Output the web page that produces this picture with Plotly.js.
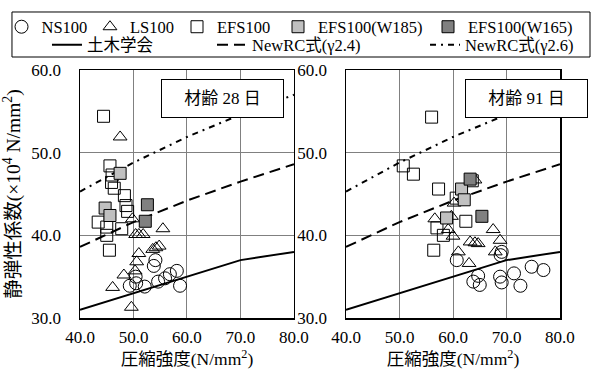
<!DOCTYPE html>
<html>
<head>
<meta charset="utf-8">
<script src="https://cdn.plot.ly/plotly-3.0.1.min.js"></script>
<style>
  html, body { margin: 0; padding: 0; background: #ffffff; }
  #chart { width: 593px; height: 370px; }
</style>
</head>
<body>
<div id="chart"></div>
<script>
// ---- compressive strength grid for the design curves ----
const strengthGrid = [40, 50, 60, 70, 80];
const jsceCurve   = [31.0, 33.0, 35.0, 37.0, 38.0];
const newrc24     = [38.6, 41.6, 44.2, 46.5, 48.6];
const newrc26     = [45.3, 48.8, 51.9, 54.6, 57.0];

// ---- age 28 days ----
const ns28x   = [49.3, 50.5, 50.4, 52.1, 53.8, 54.1, 54.6, 55.9, 56.8, 58.1, 58.7];
const ns28y   = [33.9, 34.2, 35.0, 33.8, 36.3, 37.0, 34.4, 34.8, 35.3, 35.7, 33.9];
const ls28x   = [47.5, 49.8, 55.5, 50.4, 51.0, 51.8, 51.0, 53.6, 54.2, 54.8, 50.6, 50.3, 48.2, 46.1, 49.6];
const ls28y   = [51.9, 42.0, 40.8, 40.1, 40.1, 40.1, 37.8, 38.3, 38.5, 38.7, 36.8, 35.7, 35.2, 33.7, 31.3];
const efs28x  = [44.4, 45.6, 46.0, 45.9, 46.4, 48.3, 48.6, 48.9, 43.4, 45.0, 47.8, 45.0, 45.5];
const efs28y  = [54.4, 48.4, 47.3, 46.4, 45.7, 44.8, 43.6, 42.9, 41.6, 41.0, 40.8, 40.0, 38.2];
const w185_28x = [47.5, 44.7, 45.6];
const w185_28y = [47.5, 43.3, 42.4];
const w165_28x = [52.6, 52.2];
const w165_28y = [43.7, 41.7];

// ---- age 91 days ----
const ns91x   = [60.7, 69.1, 68.9, 64.7, 63.8, 65.0, 68.8, 69.1, 71.4, 72.6, 74.7, 76.9];
const ns91y   = [37.0, 38.0, 37.6, 35.1, 34.4, 34.0, 35.0, 34.3, 35.4, 33.9, 36.2, 35.8];
const ls91x   = [56.6, 59.7, 60.2, 64.1, 67.5, 59.1, 60.0, 63.2, 64.1, 64.7, 68.8, 67.9, 61.0, 63.0];
const ls91y   = [42.0, 42.3, 43.9, 46.7, 40.7, 40.7, 39.9, 39.2, 39.1, 39.0, 39.4, 38.0, 38.0, 36.6];
const efs91x  = [56.0, 50.7, 52.6, 57.3, 62.4, 57.0, 58.2, 56.4, 60.6, 63.6];
const efs91y  = [54.3, 48.4, 47.4, 45.6, 41.7, 40.9, 40.0, 38.2, 44.5, 46.6];
const w185_91x = [61.6, 62.1, 58.8];
const w185_91y = [45.6, 44.3, 42.1];
const w165_91x = [63.2, 65.4];
const w165_91y = [46.8, 42.3];

// ---- axis ticks ----
const xTickVals = [40, 50, 60, 70, 80];
const xTickText = ['40.0', '50.0', '60.0', '70.0', '80.0'];
const yTickVals = [30, 40, 50, 60];
const yTickText = ['30.0', '40.0', '50.0', '60.0'];

const seriesNames = ['NS100', 'LS100', 'EFS100', 'EFS100(W185)', 'EFS100(W165)'];
const curveNames  = ['土木学会', 'NewRC式(γ2.4)', 'NewRC式(γ2.6)'];

const FONT = "'Liberation Serif', 'Times New Roman', 'Noto Sans CJK JP', serif";

const markerStyles = [
  { symbol: 'circle-open',      size: 13, color: '#000000', line: { width: 1, color: '#000000' } },
  { symbol: 'triangle-up-open', size: 12, color: '#000000', line: { width: 1, color: '#000000' } },
  { symbol: 'square-open',      size: 12, color: '#000000', line: { width: 1, color: '#000000' } },
  { symbol: 'square',           size: 12, color: '#c0c0c0', line: { width: 1, color: '#000000' } },
  { symbol: 'square',           size: 12, color: '#808080', line: { width: 1, color: '#000000' } }
];
const curveStyles = [
  { color: '#000000', width: 2, dash: 'solid' },
  { color: '#000000', width: 2, dash: '11px,6px' },
  { color: '#000000', width: 2, dash: '6px,5px,2px,5px' }
];

const legendIds = ['legend', 'legend2', 'legend3', 'legend4', 'legend5', 'legend6', 'legend7', 'legend8'];

const traces = [];
const panels = [
  { xa: 'x',  ya: 'y',  xs: [ns28x, ls28x, efs28x, w185_28x, w165_28x], ys: [ns28y, ls28y, efs28y, w185_28y, w165_28y], legend: true },
  { xa: 'x2', ya: 'y2', xs: [ns91x, ls91x, efs91x, w185_91x, w165_91x], ys: [ns91y, ls91y, efs91y, w185_91y, w165_91y], legend: false }
];
const curves = [jsceCurve, newrc24, newrc26];

panels.forEach(p => {
  curves.forEach((c, i) => {
    traces.push({
      type: 'scatter', mode: 'lines', x: strengthGrid, y: c,
      xaxis: p.xa, yaxis: p.ya, name: curveNames[i],
      line: curveStyles[i], showlegend: p.legend, legend: legendIds[5 + i],
      hoverinfo: 'skip'
    });
  });
  seriesNames.forEach((n, i) => {
    traces.push({
      type: 'scatter', mode: 'markers', x: p.xs[i], y: p.ys[i],
      xaxis: p.xa, yaxis: p.ya, name: n,
      marker: markerStyles[i], showlegend: p.legend, legend: legendIds[i],
      cliponaxis: false
    });
  });
});

const baseAxisX = {
  range: [40, 80], tickvals: xTickVals, ticktext: xTickText,
  showgrid: true, gridcolor: '#808080', gridwidth: 1, zeroline: false,
  showline: true, mirror: true, linecolor: '#000000', linewidth: 1.5,
  ticks: '', ticklabelstandoff: 3,
  tickfont: { family: FONT, size: 17, color: '#000000' },
  title: { text: '圧縮強度(N/mm<sup>2</sup>)', standoff: 4, font: { family: FONT, size: 17.5, color: '#000000' } },
  fixedrange: true
};
const baseAxisY = {
  range: [30, 60], tickvals: yTickVals, ticktext: yTickText,
  showgrid: true, gridcolor: '#808080', gridwidth: 1, zeroline: false,
  showline: true, mirror: true, linecolor: '#000000', linewidth: 1.5,
  ticks: '', ticklabelstandoff: 14,
  tickfont: { family: FONT, size: 17, color: '#000000' },
  fixedrange: true
};

// legend rows: markers on top, design curves below
const row1Y = 1.1734, row2Y = 1.1008;
const row1X = [-0.1635, 0.0208, 0.2021, 0.4125, 0.725];
const row2X = [-0.0688, 0.275, 0.7188];
function legendAt(x, y) {
  return {
    x: x, y: y, xanchor: 'left', yanchor: 'middle', orientation: 'h',
    bgcolor: 'rgba(0,0,0,0)', borderwidth: 0, itemclick: false, itemdoubleclick: false,
    font: { family: FONT, size: 16.5, color: '#000000' }
  };
}

const layout = {
  width: 593, height: 370,
  margin: { l: 80, r: 33, t: 70, b: 52, autoexpand: false },
  paper_bgcolor: '#ffffff', plot_bgcolor: '#ffffff',
  font: { family: FONT, size: 17, color: '#000000' },
  showlegend: true,
  xaxis:  Object.assign({}, baseAxisX, { domain: [0, 0.4458], anchor: 'y' }),
  xaxis2: Object.assign({}, baseAxisX, { domain: [0.5542, 1], anchor: 'y2' }),
  yaxis:  Object.assign({}, baseAxisY, { anchor: 'x',
            title: { text: '静弾性係数(×10<sup>4</sup> N/mm<sup>2</sup>)', standoff: 9, font: { family: FONT, size: 19.5, color: '#000000' } } }),
  yaxis2: Object.assign({}, baseAxisY, { anchor: 'x2' }),
  legend:  legendAt(row1X[0], row1Y),
  legend2: legendAt(row1X[1], row1Y),
  legend3: legendAt(row1X[2], row1Y),
  legend4: legendAt(row1X[3], row1Y),
  legend5: legendAt(row1X[4], row1Y),
  legend6: legendAt(row2X[0], row2Y),
  legend7: legendAt(row2X[1], row2Y),
  legend8: legendAt(row2X[2], row2Y),
  shapes: [{
    type: 'rect', xref: 'paper', yref: 'paper',
    x0: -0.1417, x1: 1.0625, y0: 1.0524, y1: 1.2339,
    line: { color: '#000000', width: 1 }, fillcolor: 'rgba(0,0,0,0)'
  }],
  annotations: [
    { xref: 'paper', yref: 'paper', x: 0.2969, y: 0.8851, xanchor: 'center', yanchor: 'middle',
      text: '材齢 28 日', showarrow: false, width: 121, height: 37, borderpad: 0,
      bgcolor: '#ffffff', bordercolor: '#000000', borderwidth: 1,
      font: { family: FONT, size: 17, color: '#000000' } },
    { xref: 'paper', yref: 'paper', x: 0.9302, y: 0.8851, xanchor: 'center', yanchor: 'middle',
      text: '材齢 91 日', showarrow: false, width: 121, height: 37, borderpad: 0,
      bgcolor: '#ffffff', bordercolor: '#000000', borderwidth: 1,
      font: { family: FONT, size: 17, color: '#000000' } }
  ]
};

Plotly.newPlot('chart', traces, layout, { staticPlot: true, displayModeBar: false });
</script>
</body>
</html>
